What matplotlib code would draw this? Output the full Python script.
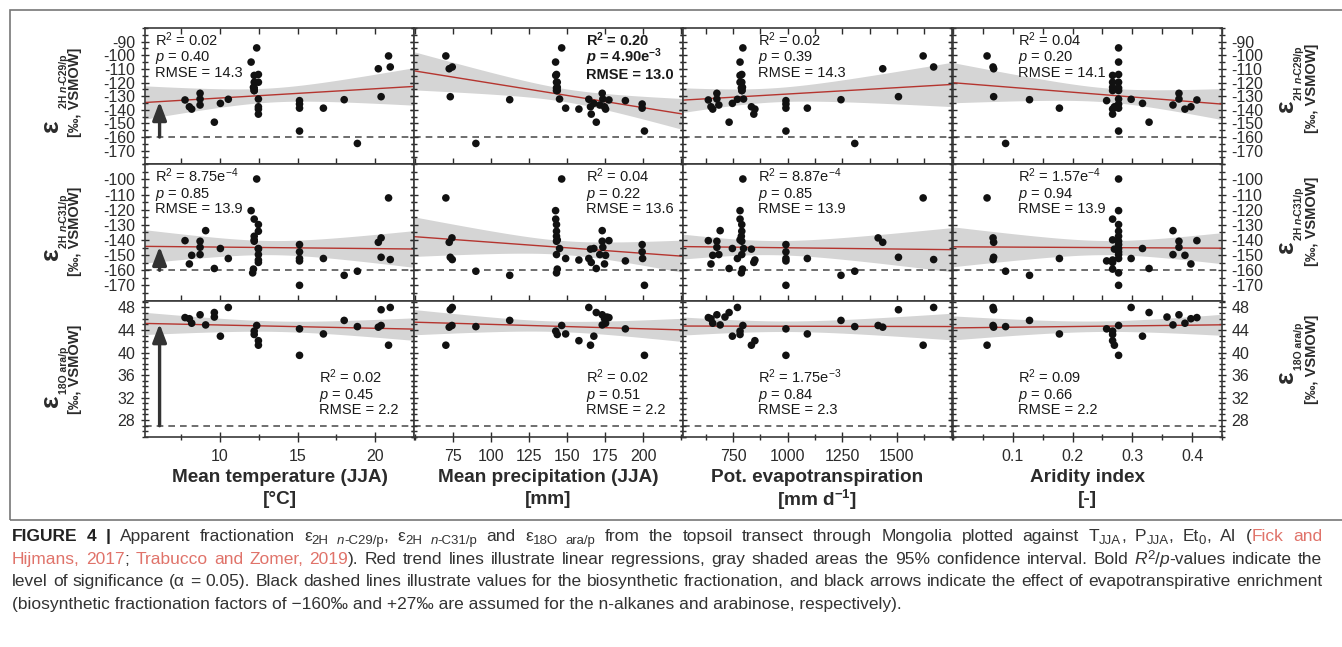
import re
import numpy as np
import matplotlib
matplotlib.use("Agg")
import matplotlib.pyplot as plt
from matplotlib.ticker import FixedLocator, MultipleLocator
from matplotlib.patches import Rectangle

plt.rcParams["font.family"] = "Liberation Sans"
plt.rcParams["mathtext.fontset"] = "custom"
plt.rcParams["mathtext.rm"] = "Liberation Sans"
plt.rcParams["mathtext.it"] = "Liberation Sans:italic"
plt.rcParams["mathtext.bf"] = "Liberation Sans:bold"
plt.rcParams["mathtext.sf"] = "Liberation Sans:bold:italic"
plt.rcParams["axes.unicode_minus"] = False

nan = np.nan

# ---- sample data (one entry per topsoil sample) ----
temp_jja = [7.74, 8.02, 8.17, 8.71, 8.71, 8.71, 9.07, 9.63, 9.63, 10.02, 10.53,
            15.12, 15.12, 15.12, 15.12, 15.12, 16.66, 18.0, 18.85, 20.2, 20.38,
            20.38, 20.86, 20.97,
            12.36, 12.0, 12.47, 12.2, 12.47, 12.2, 12.2, 12.15, 12.2, 12.2,
            12.47, 12.47, 12.47, 12.47, 12.47, 12.1]
precip_jja = [177.4, 174.5, 175.2, 173.0, 173.4, 171.4, 173.0, 169.1, 176.0, 167.5, 164.2,
              188.2, 199.2, 199.2, 200.7, 199.5, 149.0, 112.3, 90.1, 72.6, 74.4,
              73.3, 70.4, 74.6,
              146.4, 142.4, 143.0, 142.5, 143.0, 143.5, 143.0, 143.5, 143.0, 143.5,
              165.3, 165.8, 157.7, 145.0, 143.0, 143.0]
pet = [637, 649, 657, 676, 676, 685, 691, 732, 713, 747, 770,
       992, 992, 992, 992, 992, 1090, 1244, 1307, 1435, 1414,
       1507, 1620, 1668,
       795, 782, 790, 782, 790, 782, 788, 793, 790, 791,
       834, 845, 850, 798, 790, 788]
aridity = [0.408, 0.398, 0.388, 0.378, 0.378, 0.368, 0.368, 0.328, 0.358, 0.317, 0.298,
           0.257, 0.277, 0.277, 0.277, 0.277, 0.178, 0.128, 0.088, 0.068, 0.067,
           0.068, 0.057, 0.067,
           0.277, 0.277, 0.277, 0.267, 0.277, 0.267, 0.277, 0.267, 0.277, 0.267,
           0.270, 0.267, 0.267, 0.277, 0.277, 0.277]
eps_c29 = [-132.8, -137.8, -139.5, -127.9, -132.1, -136.5, nan, -149.1, nan, -135.3, -132.3,
           -133.3, -135.8, -138.8, -155.6, nan, -138.8, -132.6, -164.7, -109.9, nan,
           -130.4, -100.5, -108.6,
           -94.6, -105.0, -114.1, -114.8, -119.8, -119.8, -124.0, -123.5, -125.9, -125.9,
           -137.8, -143.2, -139.5, -132.1, nan, nan]
eps_c31 = [-140.4, -155.8, -150.1, -140.8, -144.8, -149.6, -133.8, -158.8, nan, -145.6, -152.2,
           -153.8, -143.0, -147.8, -169.9, -152.2, -152.2, -163.3, -160.6, -141.5, -138.6,
           -151.4, -112.2, -152.9,
           -99.7, -120.6, -129.8, -126.2, -134.2, -139.9, -137.5, -159.2, -140.8, nan,
           -146.0, -154.8, -153.2, -145.6, -149.6, -161.7]
eps_ara = [46.2, 46.0, 45.2, 46.7, nan, nan, 44.9, 47.1, 46.3, 42.9, 48.0,
           44.2, nan, nan, 39.5, nan, 43.3, 45.7, 44.6, 44.5, 44.8,
           47.6, 41.3, 48.0,
           44.8, nan, nan, 43.8, nan, 43.2, nan, nan, nan, nan,
           41.3, nan, 42.1, nan, nan, nan]

# R2, p, RMSE as printed in each panel (row, column)
stats = [
    [("0.02", "0.40", "14.3"), ("0.20", "4.90e-3", "13.0"), ("0.02", "0.39", "14.3"), ("0.04", "0.20", "14.1")],
    [("8.75e-4", "0.85", "13.9"), ("0.04", "0.22", "13.6"), ("8.87e-4", "0.85", "13.9"), ("1.57e-4", "0.94", "13.9")],
    [("0.02", "0.45", "2.2"), ("0.02", "0.51", "2.2"), ("1.75e-3", "0.84", "2.3"), ("0.09", "0.66", "2.2")],
]
significant = [[False, True, False, False], [False] * 4, [False] * 4]
biosynthetic = [-160, -160, 27]

x_names = ["Mean temperature (JJA)", "Mean precipitation (JJA)", "Pot. evapotranspiration", "Aridity index"]
x_units = ["[°C]", "[mm]", "[mm d$^{\\mathbf{-1}}$]", "[-]"]
row_subs = [("2H ", "n", "-C29/p"), ("2H ", "n", "-C31/p"), ("18O ara/p", "", "")]

W, H = 1342, 647
fig = plt.figure(figsize=(W / 100, H / 100), dpi=100)

col_left = [145, 414, 683, 953]
col_w = 269
row_top = [28, 164.3, 300.7]
row_h = 136.3

xcols = [np.array(temp_jja), np.array(precip_jja), np.array(pet), np.array(aridity)]
yrows = [np.array(eps_c29), np.array(eps_c31), np.array(eps_ara)]
xlims = [(5.16, 22.5), (49.5, 226), (521, 1752), (0.0, 0.45)]
xmajor = [[10, 15, 20], [75, 100, 125, 150, 175, 200], [750, 1000, 1250, 1500], [0.1, 0.2, 0.3, 0.4]]
xminor = [2.5, 25, 125, 0.05]
ylims = [(-180, -80), (-180, -90), (25, 49.2)]
ymajor = [list(range(-170, -89, 10)), list(range(-170, -99, 10)), [28, 32, 36, 40, 44, 48]]
yminor = [5, 5, 1]

ink = "#2b2b2b"
T_CRIT = 2.02


def fit_band(x, y, lo, hi):
    ok = ~np.isnan(x) & ~np.isnan(y)
    x, y = x[ok], y[ok]
    n = len(x)
    b, a = np.polyfit(x, y, 1)
    s = np.sqrt(np.sum((y - (a + b * x)) ** 2) / (n - 2))
    sxx = np.sum((x - x.mean()) ** 2)
    g = np.linspace(lo, hi, 200)
    half = T_CRIT * s * np.sqrt(1.0 / n + (g - x.mean()) ** 2 / sxx)
    return g, a + b * g, half, (a, b)


def fmt_num(v, bold):
    if "e" in v:
        m, e = v.split("e")
        return m + ("e$^{\\mathbf{%s}}$" % e if bold else "e$^{%s}$" % e)
    return v


stat_x = [[0.037, 0.64, 0.28, 0.24], [0.037, 0.64, 0.28, 0.24], [0.645, 0.64, 0.28, 0.24]]

for r in range(3):
    for c in range(4):
        ax = fig.add_axes([col_left[c] / W, 1 - (row_top[r] + row_h) / H, col_w / W, row_h / H])
        x, y = xcols[c], yrows[r]
        ax.set_xlim(*xlims[c])
        ax.set_ylim(*ylims[r])
        g, fit, half, (a, b) = fit_band(x, y, *xlims[c])
        ax.fill_between(g, fit - half, fit + half, color="#d5d5d5", lw=0, zorder=1)
        ax.plot(g, fit, color="#b5352f", lw=1.0, zorder=2)
        ax.axhline(biosynthetic[r], color="#555555", lw=1.2, ls=(0, (4, 3)), zorder=1.5)
        ax.scatter(x, y, s=30, color="#111111", edgecolors="none", zorder=3)

        if c == 0:
            ax_x = 6.1
            ax.annotate("", xy=(ax_x, a + b * ax_x), xytext=(ax_x, biosynthetic[r]),
                        arrowprops=dict(arrowstyle="-|>,head_width=0.42,head_length=1.1",
                                        lw=2.4, color="#333333", shrinkA=0, shrinkB=0),
                        zorder=4)

        ax.xaxis.set_major_locator(FixedLocator(xmajor[c]))
        ax.xaxis.set_minor_locator(MultipleLocator(xminor[c]))
        ax.yaxis.set_major_locator(FixedLocator(ymajor[r]))
        ax.yaxis.set_minor_locator(MultipleLocator(yminor[r]))
        ax.tick_params(axis="y", which="both", left=True, right=True, direction="inout",
                       labelleft=(c == 0), labelright=(c == 3), labelsize=11.5,
                       colors=ink, width=1.0, pad=4)
        ax.tick_params(axis="y", which="major", length=6)
        ax.tick_params(axis="y", which="minor", length=4)
        if r == 2:
            ax.tick_params(axis="x", which="both", bottom=True, top=False, direction="inout",
                           labelbottom=True, labelsize=11.5, colors=ink, width=1.0, pad=5)
            ax.tick_params(axis="x", which="major", length=7)
            ax.tick_params(axis="x", which="minor", length=5)
        else:
            ax.tick_params(axis="x", which="both", bottom=True, top=(r == 0), direction="in",
                           labelbottom=False, length=4, colors=ink, width=1.0)
        for sp in ax.spines.values():
            sp.set_color("#3a3a3a")
            sp.set_linewidth(1.2)

        # statistics text
        r2, p, rmse = stats[r][c]
        bold = significant[r][c]
        fw = "bold" if bold else "normal"
        p_sym = "$\\mathsf{p}$" if bold else "$p$"
        r2_sym = "R$^{\\mathbf{2}}$" if bold else "R$^{2}$"
        lines = [r2_sym + " = " + fmt_num(r2, bold), p_sym + " = " + fmt_num(p, bold), "RMSE = " + rmse]
        base = 18 if r < 2 else 82.5
        step = 16.5 if bold else 15.5
        for k, line in enumerate(lines):
            yy = 1 - (base + step * k) / row_h
            ax.text(stat_x[r][c], yy, line, transform=ax.transAxes, fontsize=10.5, fontweight=fw,
                    color="#1a1a1a", va="baseline", ha="left", zorder=5)

# x axis titles
for c in range(4):
    cx = (col_left[c] + col_w / 2) / 100
    fig.text(cx, (H - 478) / 100, x_names[c], transform=fig.dpi_scale_trans, ha="center",
             va="center", fontsize=13.7, fontweight="bold", color=ink)
    fig.text(cx, (H - 500) / 100, x_units[c], transform=fig.dpi_scale_trans, ha="center",
             va="center", fontsize=13.7, fontweight="bold", color=ink)


renderer = fig.canvas.get_renderer()


def text_width(s, **kw):
    t1 = fig.text(0, 0, "|" + s + "|", **kw)
    t2 = fig.text(0, 0, "||", **kw)
    w = t1.get_window_extent(renderer).width - t2.get_window_extent(renderer).width
    t1.remove()
    t2.remove()
    return w


def draw_runs(x_px, y_px, runs, rotation=0, justify_to=None):
    # runs: (text, size, weight, style, color, drop_px); cursor in display px, y up
    pieces = []
    for text, size, weight, style, color, drop in runs:
        kw = dict(fontsize=size, fontweight=weight, fontstyle=style, color=color)
        stretch = justify_to is not None and size > 9
        tokens = [t for t in re.split("( )", text) if t] if stretch else [text]
        for tok in tokens:
            pieces.append((tok, kw, drop, text_width(tok, **kw), stretch and tok == " "))
    extra = 0.0
    if justify_to is not None:
        natural = sum(p[3] for p in pieces)
        gaps = sum(1 for p in pieces if p[4])
        if gaps:
            extra = max(0.0, (justify_to - x_px - natural) / gaps)
    cx, cy = x_px, H - y_px
    for tok, kw, drop, w, is_gap in pieces:
        if is_gap:
            w += extra
        elif tok.strip():
            pos = (cx, cy - drop) if rotation == 0 else (cx + drop, cy)
            fig.text(pos[0] / 100, pos[1] / 100, tok, transform=fig.dpi_scale_trans,
                     rotation=rotation, rotation_mode="anchor", ha="left", va="baseline", **kw)
        if rotation == 0:
            cx += w
        else:
            cy += w


# y axis titles (left and right)
label_sides = [
    # baseline x of epsilon, x of unit line, epsilon bottom per row, gap after epsilon, unit centre per row
    (58, 75, [132, 260, 407], [22, 0, 0], [92, 231, 369]),
    (1293, 1312, [112, 253, 383], [0, 0, 0], [88, 221, 359]),
]
for base_x, unit_x, eps_bottom, gaps, unit_mid in label_sides:
    for r in range(3):
        s1, s2, s3 = row_subs[r]
        runs = [("ε", 19, "bold", "normal", ink, 0)]
        if gaps[r]:
            runs.append((" " * 4, 7.5, "bold", "normal", ink, 9))
        runs.append((s1, 7.5, "bold", "normal", ink, 9))
        if s2:
            runs.append((s2, 7.5, "bold", "italic", ink, 9))
            runs.append((s3, 7.5, "bold", "normal", ink, 9))
        draw_runs(base_x, eps_bottom[r], runs, rotation=90)
        fig.text(unit_x / 100, (H - unit_mid[r]) / 100, "[‰, VSMOW]", transform=fig.dpi_scale_trans,
                 rotation=90, ha="center", va="center", fontsize=10.5, fontweight="bold", color=ink)

# frame around the figure panel (right side runs past the page edge)
fig.patches.append(Rectangle((10 / 100, (H - 520) / 100), 1340 / 100, 510 / 100,
                             transform=fig.dpi_scale_trans, fill=False, ec="#777777", lw=1.2))

# caption
cap = "#333333"
cite = "#e0736a"
fs = 12.5
sub = 9.5
caption_lines = [
    [("FIGURE 4 | ", fs, "bold", "normal", "#222222", 0),
     ("Apparent fractionation ε", fs, "normal", "normal", cap, 0),
     ("2H", sub, "normal", "normal", cap, 3), (" ", sub, "normal", "normal", cap, 3),
     ("n", sub, "normal", "italic", cap, 3),
     ("-C29/p", sub, "normal", "normal", cap, 3), (", ε", fs, "normal", "normal", cap, 0),
     ("2H", sub, "normal", "normal", cap, 3), (" ", sub, "normal", "normal", cap, 3),
     ("n", sub, "normal", "italic", cap, 3),
     ("-C31/p", sub, "normal", "normal", cap, 3), (" and ε", fs, "normal", "normal", cap, 0),
     ("18O ara/p", sub, "normal", "normal", cap, 3),
     (" from the topsoil transect through Mongolia plotted against T", fs, "normal", "normal", cap, 0),
     ("JJA", sub, "normal", "normal", cap, 3), (", P", fs, "normal", "normal", cap, 0),
     ("JJA", sub, "normal", "normal", cap, 3), (", Et", fs, "normal", "normal", cap, 0),
     ("0", sub, "normal", "normal", cap, 3), (", AI (", fs, "normal", "normal", cap, 0),
     ("Fick and", fs, "normal", "normal", cite, 0)],
    [("Hijmans, 2017", fs, "normal", "normal", cite, 0), ("; ", fs, "normal", "normal", cap, 0),
     ("Trabucco and Zomer, 2019", fs, "normal", "normal", cite, 0),
     ("). Red trend lines illustrate linear regressions, gray shaded areas the 95% confidence interval. Bold ",
      fs, "normal", "normal", cap, 0),
     ("R", fs, "normal", "italic", cap, 0), ("2", sub, "normal", "normal", cap, -5),
     ("/", fs, "normal", "normal", cap, 0), ("p", fs, "normal", "italic", cap, 0),
     ("-values indicate the", fs, "normal", "normal", cap, 0)],
    [("level of significance (α = 0.05). Black dashed lines illustrate values for the biosynthetic fractionation, "
      "and black arrows indicate the effect of evapotranspirative enrichment", fs, "normal", "normal", cap, 0)],
    [("(biosynthetic fractionation factors of −160‰ and +27‰ are assumed for the n-alkanes and arabinose, "
      "respectively).", fs, "normal", "normal", cap, 0)],
]
for k, runs in enumerate(caption_lines):
    draw_runs(12, 541 + 22.7 * k, runs, justify_to=(1322 if k < 3 else None))

fig.savefig("out.png", dpi=100)
